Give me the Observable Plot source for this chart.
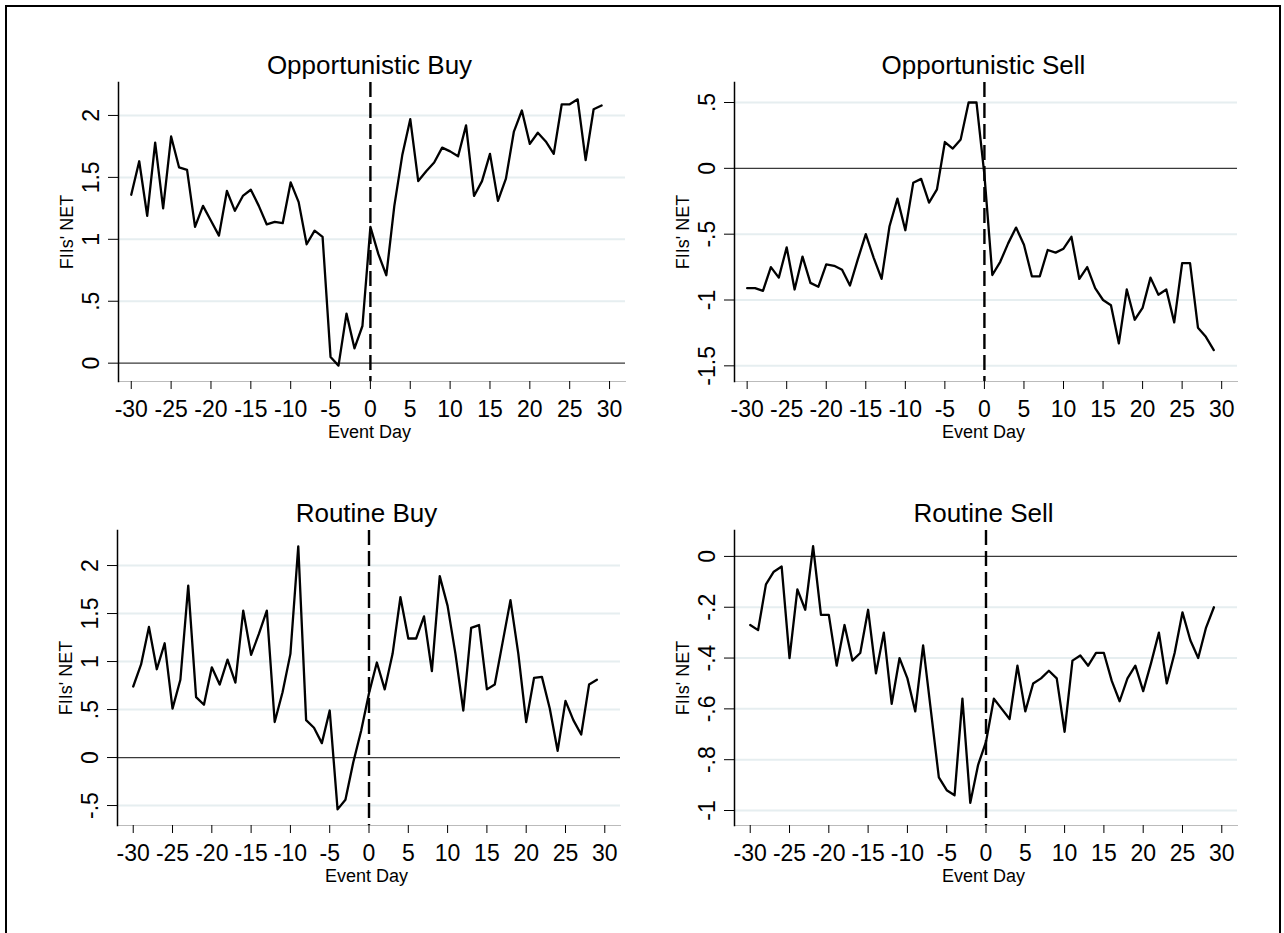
<!DOCTYPE html>
<html><head><meta charset="utf-8">
<script src="https://cdn.jsdelivr.net/npm/d3@7"></script>
<script src="https://cdn.jsdelivr.net/npm/@observablehq/plot@0.6"></script>
<style>
html,body{margin:0;padding:0;background:#fff;width:1284px;height:933px;overflow:hidden;font-family:"Liberation Sans",Arial,sans-serif;color:#000;}
#frame{position:absolute;left:5px;top:5px;width:1276px;height:960px;border:2px solid #000;box-sizing:border-box;}
.abs{position:absolute;}
.title{font-size:26px;transform:translate(-50%,-50%);white-space:nowrap;}
.xlab{font-size:18px;transform:translate(-50%,-50%);white-space:nowrap;}
.ylab{font-size:18px;transform:translate(-50%,-50%) rotate(-90deg);white-space:nowrap;}
svg{overflow:visible;}
</style></head><body>
<div id="frame"></div>
<div id="root"></div>
<script>
const days = [-30,-29,-28,-27,-26,-25,-24,-23,-22,-21,-20,-19,-18,-17,-16,-15,-14,-13,-12,-11,-10,-9,-8,-7,-6,-5,-4,-3,-2,-1,
  0,1,2,3,4,5,6,7,8,9,10,11,12,13,14,15,16,17,18,19,20,21,22,23,24,25,26,27,28,29];

const oppBuy = [1.36,1.63,1.19,1.78,1.25,1.83,1.58,1.56,1.10,1.27,1.15,1.03,1.39,1.23,1.35,1.40,1.27,1.12,1.14,1.13,
  1.46,1.30,0.96,1.07,1.02,0.05,-0.02,0.40,0.12,0.30,
  1.10,0.88,0.71,1.27,1.68,1.97,1.47,1.55,1.62,1.74,1.71,1.67,1.92,1.35,1.47,1.69,1.31,1.49,1.87,2.04,
  1.77,1.86,1.79,1.69,2.09,2.09,2.13,1.64,2.05,2.08];

const oppSell = [-0.91,-0.91,-0.93,-0.75,-0.83,-0.60,-0.92,-0.67,-0.87,-0.90,-0.73,-0.74,-0.77,-0.89,-0.69,-0.50,-0.68,-0.84,-0.44,-0.23,
  -0.47,-0.11,-0.08,-0.26,-0.16,0.20,0.15,0.22,0.50,0.50,
  -0.05,-0.81,-0.71,-0.57,-0.45,-0.58,-0.82,-0.82,-0.62,-0.64,-0.61,-0.52,-0.84,-0.75,-0.91,-1.00,-1.04,-1.33,-0.92,-1.15,
  -1.06,-0.83,-0.96,-0.92,-1.17,-0.72,-0.72,-1.21,-1.28,-1.38];

const routBuy = [0.74,0.97,1.36,0.92,1.19,0.51,0.81,1.79,0.63,0.55,0.94,0.76,1.02,0.78,1.53,1.07,1.29,1.53,0.37,0.68,
  1.08,2.20,0.39,0.31,0.15,0.49,-0.54,-0.44,-0.05,0.28,
  0.67,0.99,0.71,1.08,1.67,1.24,1.24,1.47,0.90,1.89,1.58,1.08,0.49,1.35,1.38,0.71,0.76,1.20,1.64,1.08,
  0.37,0.83,0.84,0.51,0.07,0.59,0.39,0.24,0.76,0.81];

const routSell = [-0.27,-0.29,-0.11,-0.06,-0.04,-0.40,-0.13,-0.21,0.04,-0.23,-0.23,-0.43,-0.27,-0.41,-0.38,-0.21,-0.46,-0.30,-0.58,-0.40,
  -0.48,-0.61,-0.35,-0.61,-0.87,-0.92,-0.94,-0.56,-0.97,-0.82,
  -0.73,-0.56,-0.60,-0.64,-0.43,-0.61,-0.50,-0.48,-0.45,-0.48,-0.69,-0.41,-0.39,-0.43,-0.38,-0.38,-0.49,-0.57,-0.48,-0.43,
  -0.53,-0.42,-0.30,-0.50,-0.38,-0.22,-0.33,-0.40,-0.28,-0.20];

const xTicks = [-30,-25,-20,-15,-10,-5,0,5,10,15,20,25,30];
const yTicksOppBuy = [0,0.5,1,1.5,2];
const yTicksOppSell = [-1.5,-1,-0.5,0,0.5];
const yTicksRoutBuy = [-0.5,0,0.5,1,1.5,2];
const yTicksRoutSell = [-1,-0.8,-0.6,-0.4,-0.2,0];
const titles = ["Opportunistic Buy","Opportunistic Sell","Routine Buy","Routine Sell"];
const yLabel = "FIIs' NET";
const xLabel = "Event Day";

const fmt = d => d === 0 ? "0" : String(+d.toFixed(2)).replace(/^(-?)0\./, "$1.");

const panels = [
  {title: titles[0], values: oppBuy,  yTicks: yTicksOppBuy,  plotLeft:118, plotTop:82,  plotW:507, plotH:299, xDomain:[-31.6,32], yDomain:[-0.148,2.266]},
  {title: titles[1], values: oppSell, yTicks: yTicksOppSell, plotLeft:734, plotTop:82,  plotW:503, plotH:299, xDomain:[-31.6,32], yDomain:[-1.619,0.652]},
  {title: titles[2], values: routBuy, yTicks: yTicksRoutBuy, plotLeft:117, plotTop:530, plotW:503, plotH:295, xDomain:[-32,32],   yDomain:[-0.708,2.365]},
  {title: titles[3], values: routSell,yTicks: yTicksRoutSell,plotLeft:734, plotTop:530, plotW:503, plotH:295, xDomain:[-32,32],   yDomain:[-1.059,0.102]}
];

const root = document.getElementById("root");
const mL = 60, mT = 2, mR = 15, mB = 40;

function addText(cls, text, x, y) {
  const d = document.createElement("div");
  d.className = "abs " + cls;
  d.textContent = text;
  d.style.left = x + "px";
  d.style.top = y + "px";
  root.appendChild(d);
}

for (const p of panels) {
  const data = days.map((d, i) => ({day: d, v: p.values[i]}));
  const chart = Plot.plot({
    width: mL + p.plotW + mR,
    height: mT + p.plotH + mB,
    marginLeft: mL, marginTop: mT, marginRight: mR, marginBottom: mB,
    style: {fontFamily: '"Liberation Sans", Arial, sans-serif', fontSize: "23px", color: "#000", background: "transparent"},
    x: {domain: p.xDomain},
    y: {domain: p.yDomain},
    marks: [
      Plot.ruleY(p.yTicks.filter(d => d !== 0), {stroke: "#e6eef0", strokeWidth: 2}),
      Plot.ruleY([0], {stroke: "#3a3a3a", strokeWidth: 1.3}),
      Plot.ruleX([0], {stroke: "#000", strokeWidth: 2.4, strokeDasharray: "15,6"}),
      Plot.line(data, {x: "day", y: "v", stroke: "#000", strokeWidth: 2.3, strokeLinejoin: "round"}),
      Plot.frame({anchor: "bottom", stroke: "#bbbbbb", strokeWidth: 1}),
      Plot.frame({anchor: "left", stroke: "#000", strokeWidth: 1.5}),
      Plot.axisX({ticks: xTicks, tickSize: 8, tickPadding: 11, label: null, tickFormat: d => String(d)}),
      Plot.axisY({ticks: p.yTicks, tickSize: 10, tickPadding: 10, tickRotate: -90, label: null, tickFormat: fmt})
    ]
  });
  chart.style.position = "absolute";
  chart.style.left = (p.plotLeft - mL) + "px";
  chart.style.top = (p.plotTop - mT) + "px";
  root.appendChild(chart);

  const cx = p.plotLeft + p.plotW / 2;
  addText("title", p.title, cx - 2, p.plotTop - 17);
  addText("xlab", xLabel, cx - 2, p.plotTop + p.plotH + 51);
  addText("ylab", yLabel, p.plotLeft - 51, p.plotTop + p.plotH / 2);
}
</script>
</body></html>
